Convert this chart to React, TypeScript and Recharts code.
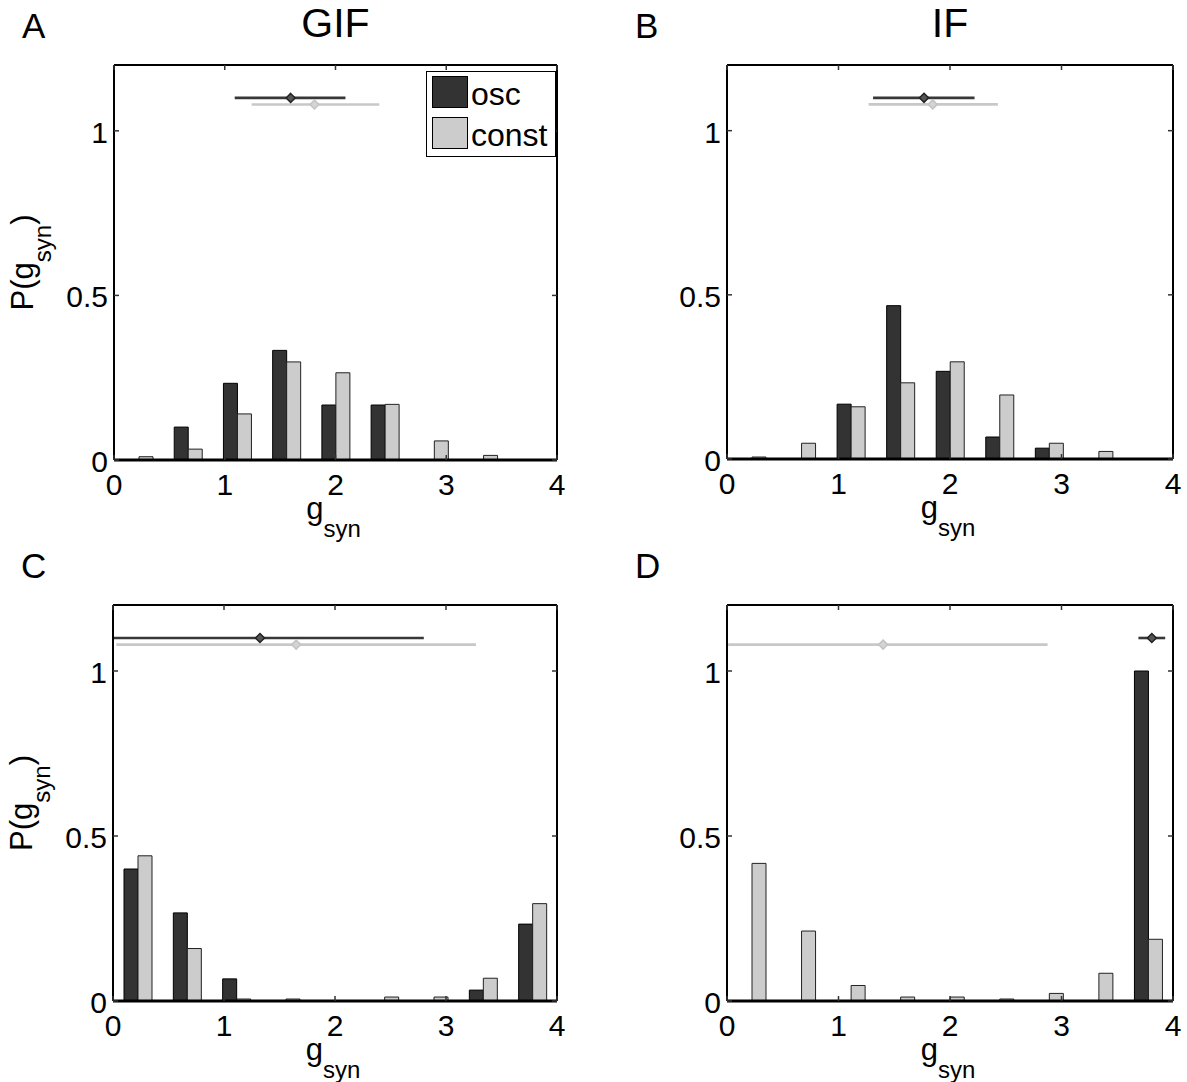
import React from "react";
import {
  BarChart,
  Bar,
  XAxis,
  YAxis,
  ReferenceLine,
  ReferenceDot,
  Legend,
} from "recharts";

const FONT = '"Liberation Sans", Arial, Helvetica, sans-serif';

// 9 histogram bins of g_syn over [0, 4]
const bins = ["0.22", "0.67", "1.11", "1.56", "2.00", "2.44", "2.89", "3.33", "3.78"];
const binCenters = [0.222, 0.667, 1.111, 1.556, 2.0, 2.444, 2.889, 3.333, 3.778];
const xTicks = [0, 1, 2, 3, 4];
const yTicks = [0, 0.5, 1];
const seriesOrder = ["osc", "const"];

// A: GIF
const oscA = [0, 0.1, 0.233, 0.333, 0.167, 0.167, 0, 0, 0];
const constA = [0.01, 0.033, 0.14, 0.298, 0.265, 0.169, 0.058, 0.014, 0];
// B: IF
const oscB = [0, 0, 0.167, 0.467, 0.267, 0.067, 0.033, 0, 0];
const constB = [0.006, 0.048, 0.159, 0.232, 0.296, 0.195, 0.048, 0.023, 0];
// C
const oscC = [0.4, 0.267, 0.067, 0, 0, 0, 0, 0.033, 0.233];
const constC = [0.44, 0.159, 0.006, 0.006, 0, 0.012, 0.012, 0.069, 0.295];
// D
const oscD = [0, 0, 0, 0, 0, 0, 0, 0, 1];
const constD = [0.417, 0.212, 0.047, 0.012, 0.012, 0.006, 0.023, 0.084, 0.187];

// spread markers above the bars: [low, mean, high]
const spreadOscA = [1.09, 1.595, 2.09];
const spreadConstA = [1.243, 1.81, 2.395];
const spreadOscB = [1.31, 1.767, 2.22];
const spreadConstB = [1.27, 1.845, 2.43];
const spreadOscC = [0, 1.324, 2.8];
const spreadConstC = [0.03, 1.65, 3.27];
const spreadOscD = [3.69, 3.81, 3.93];
const spreadConstD = [0.01, 1.4, 2.875];

const OSC_LEVEL = 1.1;
const CONST_LEVEL = 1.08;

const DARK = "#333333";
const LIGHT = "#cccccc";
const TICK_LEN = 5;

const panels = [
  { letter: "A", title: "GIF", osc: oscA, cst: constA, sOsc: spreadOscA, sCst: spreadConstA, yLabel: true, legend: true, box: { x: 114, y: 65, w: 443, h: 395 } },
  { letter: "B", title: "IF", osc: oscB, cst: constB, sOsc: spreadOscB, sCst: spreadConstB, yLabel: false, legend: false, box: { x: 727, y: 65, w: 446, h: 394 } },
  { letter: "C", title: "", osc: oscC, cst: constC, sOsc: spreadOscC, sCst: spreadConstC, yLabel: true, legend: false, box: { x: 113, y: 605, w: 444, h: 396 } },
  { letter: "D", title: "", osc: oscD, cst: constD, sOsc: spreadOscD, sCst: spreadConstD, yLabel: false, legend: false, box: { x: 727, y: 605, w: 446, h: 396 } },
];

function BottomTick(props: any) {
  const { x, y, payload } = props;
  return (
    <g>
      <line x1={x} x2={x} y1={y} y2={y - TICK_LEN} stroke="#333" strokeWidth={1.5} />
      <text x={x} y={y + 35} textAnchor="middle" fontSize={30} fontFamily={FONT} fill="#000">
        {payload.value}
      </text>
    </g>
  );
}

function TopTick(props: any) {
  const { x, y } = props;
  return <line x1={x} x2={x} y1={y} y2={y + TICK_LEN} stroke="#333" strokeWidth={1.5} />;
}

function LeftTick(props: any) {
  const { x, y, payload } = props;
  return (
    <g>
      <line x1={x} x2={x + TICK_LEN} y1={y} y2={y} stroke="#333" strokeWidth={1.5} />
      <text x={x - 6} y={y + 12} textAnchor="end" fontSize={30} fontFamily={FONT} fill="#000">
        {payload.value}
      </text>
    </g>
  );
}

function RightTick(props: any) {
  const { x, y } = props;
  return <line x1={x} x2={x - TICK_LEN} y1={y} y2={y} stroke="#333" strokeWidth={1.5} />;
}

function XLabel(props: any) {
  const vb = props.viewBox;
  return (
    <text x={vb.x + vb.width / 2 - 2} y={vb.y + 59} textAnchor="middle" fontSize={31} fontFamily={FONT} fill="#000">
      g
      <tspan fontSize={24} dy={18}>syn</tspan>
    </text>
  );
}

function YLabel(props: any) {
  const vb = props.viewBox;
  const cx = vb.x + vb.width - 81;
  const cy = vb.y + vb.height / 2;
  return (
    <text transform={`translate(${cx}, ${cy}) rotate(-90)`} textAnchor="middle" fontSize={31} fontFamily={FONT} fill="#000">
      P(g
      <tspan fontSize={24} dy={18}>syn</tspan>
      <tspan dy={-18}>)</tspan>
    </text>
  );
}

function Diamond(props: any) {
  const { cx, cy, fill, stroke } = props;
  const d = 4.5;
  return (
    <path
      d={`M${cx},${cy - d}L${cx + d},${cy}L${cx},${cy + d}L${cx - d},${cy}Z`}
      fill={fill}
      stroke={stroke}
      strokeWidth={1.5}
    />
  );
}

function LegendBox(props: any) {
  const items = [...(props.payload || [])].sort(
    (a: any, b: any) => seriesOrder.indexOf(a.value) - seriesOrder.indexOf(b.value)
  );
  return (
    <div
      style={{
        position: "relative",
        width: 130,
        height: 86,
        boxSizing: "border-box",
        border: "1.5px solid #000",
        background: "#fff",
        fontFamily: FONT,
      }}
    >
      {items.map((it: any, i: number) => (
        <div key={it.value} style={{ position: "absolute", left: 5, top: 4 + i * 41, display: "flex" }}>
          <div style={{ width: 36, height: 32, boxSizing: "border-box", border: "1px solid #000", background: it.color }} />
          <span style={{ fontSize: 32, lineHeight: "32px", marginLeft: 3, paddingTop: 2, color: "#000" }}>{it.value}</span>
        </div>
      ))}
    </div>
  );
}

// outer margins (axes themselves take 1px each)
const ML = 109;
const MT = 64;
const MR = 13;
const MB = 84;

function Panel({ p }: { p: (typeof panels)[number] }) {
  const data = bins.map((b, i) => ({ bin: b, center: binCenters[i], osc: p.osc[i], cst: p.cst[i] }));
  const width = ML + 1 + p.box.w + 1 + MR;
  const height = MT + 1 + p.box.h + 1 + MB;
  const left = p.box.x - ML - 1;
  const top = p.box.y - MT - 1;
  return (
    <div style={{ position: "absolute", left, top }}>
      <BarChart
        width={width}
        height={height}
        data={data}
        margin={{ top: MT, left: ML, right: MR, bottom: MB }}
        barGap={0}
      >
        <XAxis
          xAxisId="num"
          dataKey="center"
          type="number"
          domain={[0, 4]}
          ticks={xTicks}
          interval={0}
          allowDataOverflow
          height={1}
          tickSize={0}
          tickMargin={0}
          tickLine={false}
          tick={BottomTick}
          axisLine={{ stroke: "#000", strokeWidth: 3 }}
          label={XLabel}
        />
        <XAxis xAxisId="cat" dataKey="bin" type="category" hide height={0} />
        <XAxis
          xAxisId="top"
          dataKey="center"
          orientation="top"
          type="number"
          domain={[0, 4]}
          ticks={xTicks}
          interval={0}
          allowDataOverflow
          height={1}
          tickSize={0}
          tickMargin={0}
          tickLine={false}
          tick={TopTick}
          axisLine={{ stroke: "#000", strokeWidth: 2 }}
        />
        <YAxis
          yAxisId="left"
          type="number"
          domain={[0, 1.2]}
          ticks={yTicks}
          interval={0}
          allowDataOverflow
          width={1}
          tickSize={0}
          tickMargin={0}
          tickLine={false}
          tick={LeftTick}
          axisLine={{ stroke: "#000", strokeWidth: 2 }}
          label={p.yLabel ? YLabel : undefined}
        />
        <YAxis
          yAxisId="right"
          dataKey="osc"
          orientation="right"
          type="number"
          domain={[0, 1.2]}
          ticks={yTicks}
          interval={0}
          allowDataOverflow
          width={1}
          tickSize={0}
          tickMargin={0}
          tickLine={false}
          tick={RightTick}
          axisLine={{ stroke: "#000", strokeWidth: 2 }}
        />
        <Bar
          xAxisId="cat"
          yAxisId="left"
          dataKey="osc"
          name="osc"
          fill={DARK}
          stroke="#000"
          strokeWidth={1}
          barSize={14}
          isAnimationActive={false}
        />
        <Bar
          xAxisId="cat"
          yAxisId="left"
          dataKey="cst"
          name="const"
          fill={LIGHT}
          stroke="#222"
          strokeWidth={1}
          barSize={14}
          isAnimationActive={false}
        />
        <ReferenceLine
          xAxisId="num"
          yAxisId="left"
          segment={[
            { x: p.sCst[0], y: CONST_LEVEL },
            { x: p.sCst[2], y: CONST_LEVEL },
          ]}
          stroke="#c8c8c8"
          strokeWidth={2.6}
          ifOverflow="visible"
        />
        <ReferenceDot
          xAxisId="num"
          yAxisId="left"
          x={p.sCst[1]}
          y={CONST_LEVEL}
          r={4}
          fill="#d4d4d4"
          stroke="#c4c4c4"
          ifOverflow="visible"
          shape={Diamond}
        />
        <ReferenceLine
          xAxisId="num"
          yAxisId="left"
          segment={[
            { x: p.sOsc[0], y: OSC_LEVEL },
            { x: p.sOsc[2], y: OSC_LEVEL },
          ]}
          stroke="#383838"
          strokeWidth={2.6}
          ifOverflow="visible"
        />
        <ReferenceDot
          xAxisId="num"
          yAxisId="left"
          x={p.sOsc[1]}
          y={OSC_LEVEL}
          r={4}
          fill="#555"
          stroke="#222"
          ifOverflow="visible"
          shape={Diamond}
        />
        {p.legend && (
          <Legend
            layout="vertical"
            align="center"
            verticalAlign="middle"
            wrapperStyle={{ left: 426 - left, top: 71 - top, width: 130, height: 86 }}
            content={LegendBox}
          />
        )}
      </BarChart>
    </div>
  );
}

export default function App() {
  return (
    <div
      style={{
        position: "absolute",
        left: 0,
        top: 0,
        width: 1187,
        height: 1082,
        overflow: "hidden",
        background: "#fff",
        fontFamily: FONT,
      }}
    >
      {panels.map((p) => (
        <Panel key={p.letter} p={p} />
      ))}
      <svg
        width={1187}
        height={1082}
        style={{ position: "absolute", left: 0, top: 0, pointerEvents: "none" }}
      >
        {panels.map((p) => (
          <g key={p.letter}>
            <text x={p.box.x - 92} y={p.box.y - 27} fontSize={35} fontFamily={FONT} fill="#000">
              {p.letter}
            </text>
            {p.title && (
              <text
                x={p.box.x + p.box.w / 2}
                y={p.box.y - 28}
                textAnchor="middle"
                fontSize={41}
                fontFamily={FONT}
                fill="#000"
              >
                {p.title}
              </text>
            )}
          </g>
        ))}
      </svg>
    </div>
  );
}
